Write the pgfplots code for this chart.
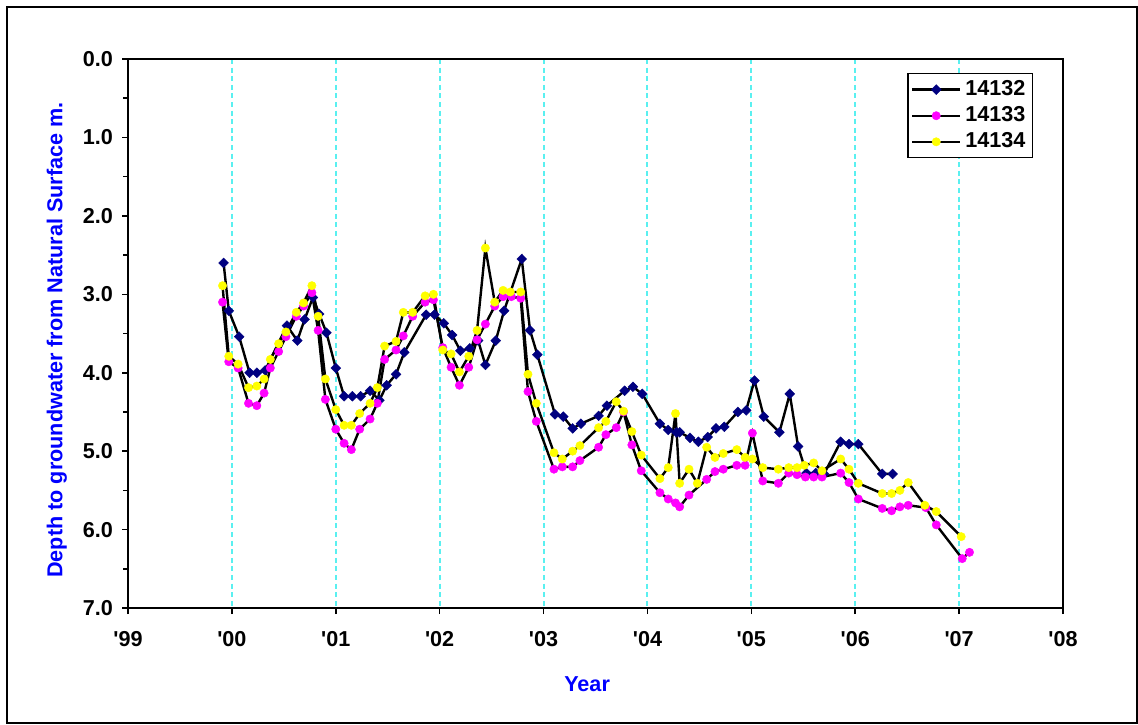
\documentclass[border=0pt]{standalone}
\usepackage{fontspec}
\setmainfont{Liberation Sans}
\usepackage{pgfplots}
\usepackage{pgfplotstable}
\pgfplotsset{compat=1.18}

\definecolor{navyd}{RGB}{0,0,128}
\definecolor{magd}{RGB}{255,0,255}
\definecolor{yeld}{RGB}{255,255,0}
\definecolor{gridc}{RGB}{90,240,240}
\definecolor{labblue}{RGB}{0,0,255}

% depth readings (m), x = decimal year
\pgfplotstableread{
x y
1999.92 2.60
1999.97 3.21
2000.07 3.54
2000.17 4.00
2000.24 4.00
2000.32 3.97
2000.53 3.40
2000.63 3.59
2000.70 3.32
2000.78 3.04
2000.84 3.25
2000.91 3.49
2001.00 3.94
2001.08 4.30
2001.16 4.30
2001.24 4.30
2001.33 4.23
2001.42 4.35
2001.49 4.16
2001.58 4.02
2001.66 3.74
2001.87 3.26
2001.95 3.26
2002.04 3.37
2002.12 3.52
2002.20 3.72
2002.29 3.69
2002.37 3.59
2002.44 3.90
2002.54 3.59
2002.62 3.21
2002.79 2.55
2002.87 3.46
2002.94 3.77
2003.11 4.53
2003.19 4.56
2003.28 4.71
2003.36 4.65
2003.53 4.55
2003.61 4.42
2003.78 4.23
2003.86 4.18
2003.95 4.27
2004.12 4.65
2004.20 4.73
2004.28 4.76
2004.31 4.76
2004.41 4.83
2004.49 4.88
2004.58 4.82
2004.66 4.71
2004.74 4.69
2004.87 4.50
2004.95 4.48
2005.03 4.10
2005.12 4.56
2005.27 4.76
2005.37 4.27
2005.45 4.94
2005.53 5.28
2005.62 5.28
2005.70 5.29
2005.86 4.88
2005.94 4.91
2006.03 4.91
2006.26 5.29
2006.36 5.29
}\wellA

\pgfplotstableread{
x y
1999.91 3.10
1999.97 3.86
2000.06 3.94
2000.16 4.39
2000.24 4.42
2000.31 4.26
2000.37 3.94
2000.45 3.73
2000.52 3.54
2000.62 3.28
2000.69 3.15
2000.77 2.98
2000.83 3.46
2000.90 4.34
2001.00 4.72
2001.08 4.90
2001.15 4.98
2001.23 4.72
2001.33 4.59
2001.40 4.39
2001.47 3.83
2001.58 3.71
2001.65 3.53
2001.74 3.28
2001.86 3.10
2001.94 3.07
2002.03 3.68
2002.11 3.93
2002.19 4.16
2002.28 3.93
2002.36 3.58
2002.44 3.38
2002.53 3.15
2002.61 3.03
2002.69 3.03
2002.78 3.05
2002.85 4.24
2002.93 4.62
2003.10 5.23
2003.18 5.20
2003.28 5.20
2003.35 5.12
2003.53 4.95
2003.60 4.79
2003.70 4.70
2003.77 4.50
2003.85 4.92
2003.94 5.25
2004.12 5.53
2004.20 5.61
2004.27 5.66
2004.31 5.71
2004.40 5.56
2004.57 5.36
2004.65 5.26
2004.73 5.23
2004.86 5.18
2004.94 5.18
2005.01 4.77
2005.11 5.38
2005.26 5.41
2005.36 5.28
2005.44 5.30
2005.52 5.33
2005.60 5.33
2005.68 5.33
2005.86 5.28
2005.94 5.40
2006.03 5.61
2006.26 5.73
2006.35 5.76
2006.43 5.71
2006.51 5.69
2006.68 5.72
2006.78 5.94
2007.03 6.37
2007.10 6.29
}\wellB

\pgfplotstableread{
x y
1999.91 2.89
1999.97 3.79
2000.06 3.89
2000.16 4.19
2000.24 4.17
2000.31 4.08
2000.37 3.83
2000.45 3.63
2000.52 3.48
2000.62 3.23
2000.69 3.11
2000.77 2.89
2000.83 3.28
2000.90 4.08
2001.00 4.47
2001.08 4.67
2001.15 4.67
2001.23 4.52
2001.33 4.39
2001.40 4.19
2001.47 3.66
2001.58 3.60
2001.65 3.23
2001.74 3.23
2001.86 3.02
2001.94 3.00
2002.03 3.71
2002.11 3.76
2002.19 3.99
2002.28 3.79
2002.36 3.46
2002.44 2.41
2002.53 3.10
2002.61 2.95
2002.68 2.97
2002.78 2.97
2002.85 4.02
2002.93 4.39
2003.10 5.02
2003.18 5.10
2003.28 5.00
2003.35 4.93
2003.53 4.70
2003.60 4.62
2003.70 4.37
2003.77 4.49
2003.85 4.75
2003.94 5.05
2004.12 5.35
2004.20 5.21
2004.27 4.52
2004.31 5.41
2004.40 5.23
2004.48 5.41
2004.57 4.95
2004.65 5.08
2004.73 5.03
2004.86 4.98
2004.94 5.08
2005.01 5.10
2005.11 5.21
2005.26 5.23
2005.36 5.21
2005.44 5.21
2005.51 5.18
2005.60 5.15
2005.68 5.25
2005.86 5.10
2005.94 5.23
2006.03 5.41
2006.26 5.54
2006.35 5.54
2006.43 5.50
2006.51 5.40
2006.67 5.69
2006.78 5.77
2007.02 6.09
}\wellC

\newcommand{\chartfont}{\bfseries\fontsize{10.8}{13}\selectfont}

\begin{document}
\begin{tikzpicture}[x=1pt,y=1pt]
\useasboundingbox (-64,-58) rectangle (505,304);
\draw[line width=0.6pt] (-60.5,-57.5) rectangle (504.5,300.5);
\begin{axis}[
  at={(0,0)}, anchor=south west,
  scale only axis, width=467.5pt, height=274.5pt,
  xmin=1999, xmax=2008, ymin=0, ymax=7,
  y dir=reverse,
  xtick={1999,2000,...,2008},
  xticklabels={\textquotesingle 99,\textquotesingle 00,\textquotesingle 01,\textquotesingle 02,\textquotesingle 03,\textquotesingle 04,\textquotesingle 05,\textquotesingle 06,\textquotesingle 07,\textquotesingle 08},
  ytick={0,1,...,7},
  minor x tick num=1, minor y tick num=1,
  xtick pos=bottom, ytick pos=left,
  tick align=outside,
  major tick length=3pt, minor tick length=2.5pt,
  tick style={black, line width=0.8pt},
  /pgf/number format/assume math mode=true,
  /pgf/number format/fixed,
  /pgf/number format/fixed zerofill,
  /pgf/number format/precision=1,
  tick label style={font=\chartfont},
  xticklabel style={yshift=-5pt},
  yticklabel style={xshift=-1pt},
  xmajorgrids,
  major grid style={gridc, line width=1pt, dash pattern=on 2.5pt off 1.8pt},
  axis line style={line width=0.6pt},
  xlabel={Year},
  ylabel={Depth to groundwater from Natural Surface m.},
  label style={font=\chartfont, text=labblue},
  xlabel style={at={(axis description cs:0.491,-0.138)}, anchor=center},
  ylabel style={at={(axis description cs:-0.076,0.488)}, anchor=center},
  legend style={at={(axis description cs:0.968,0.9745)}, anchor=north east,
    draw=black, line width=0.6pt, font=\chartfont, inner sep=1.5pt,
    cells={anchor=west}},
  legend image code/.code={
    \draw[mark repeat=2,mark phase=2,#1]
      plot coordinates {(0pt,0pt) (12pt,0pt) (24pt,0pt)};},
]
\addplot[black, line width=1.2pt, mark=square*, mark size=1.75pt,
  mark options={rotate=45, fill=navyd, draw=navyd, line width=0.2pt}]
  table[x=x, y=y] {\wellA};
\addplot[black, line width=1.2pt, mark=*, mark size=2.1pt,
  mark options={fill=magd, draw=magd, line width=0.2pt}]
  table[x=x, y=y] {\wellB};
\addplot[black, line width=1.2pt, mark=*, mark size=2.1pt,
  mark options={fill=yeld, draw=yeld, line width=0.2pt}]
  table[x=x, y=y] {\wellC};
\legend{14132, 14133, 14134}
\draw[line width=1.2pt] (rel axis cs:0,1) -- (rel axis cs:0,0) -- (rel axis cs:1,0);
\end{axis}
\end{tikzpicture}
\end{document}
